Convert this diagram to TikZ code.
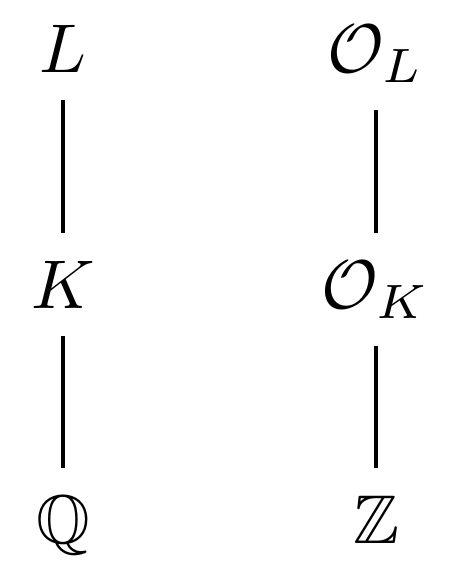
\documentclass[tikz,border=0pt]{standalone}
\usepackage{amsmath,amssymb}
\begin{document}
\begin{tikzpicture}[x=0.145pt,y=-0.145pt,
  obj/.style={inner sep=4.06pt,outer sep=0pt,anchor=base},
  link/.style={line width=0.48pt}]
\useasboundingbox (0,0) rectangle (461,580);
\node[obj] (L) at (63,72) {$L$};
\node[obj] (K) at (63,308) {$K$};
\node[obj] (Q) at (63,543) {$\mathbb{Q}$};
\node[obj] (OL) at (376,72) {$\mathcal{O}_L$};
\node[obj] (OK) at (376,308) {$\mathcal{O}_K$};
\node[obj] (Z) at (376,543) {$\mathbb{Z}$};
\draw[link] (L.south) -- (K.north);
\draw[link] (K.south) -- (Q.north);
\draw[link] (OL.south) -- (OK.north);
\draw[link] (OK.south) -- (Z.north);
\end{tikzpicture}
\end{document}
